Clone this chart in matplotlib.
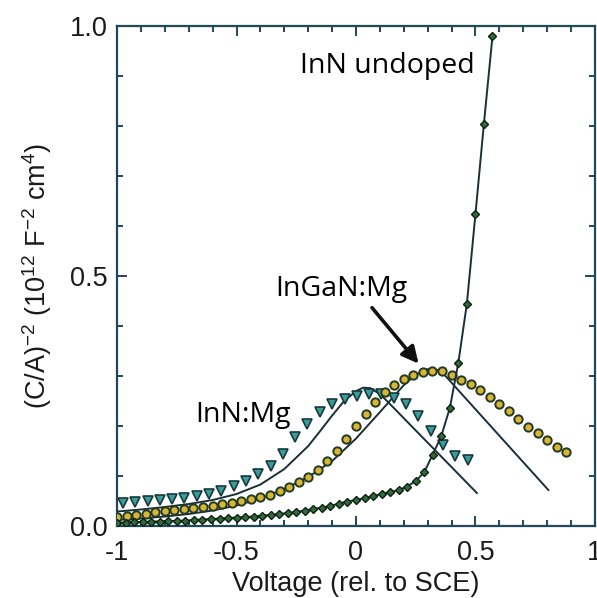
import numpy as np
import matplotlib.pyplot as plt

# InN undoped (dark green diamonds), voltage vs (C/A)^-2
v_undoped = [-1.000, -0.964, -0.928, -0.893, -0.857, -0.821, -0.786, -0.750,
             -0.714, -0.678, -0.643, -0.607, -0.571, -0.535, -0.500, -0.464,
             -0.428, -0.393, -0.357, -0.321, -0.286, -0.250, -0.214, -0.178,
             -0.143, -0.107, -0.071, -0.036, 0.000, 0.036, 0.071, 0.107,
             0.143, 0.178, 0.214, 0.250, 0.286, 0.321, 0.357, 0.393,
             0.428, 0.464, 0.500, 0.535, 0.571]
c_undoped = [0.007, 0.007, 0.008, 0.008, 0.009, 0.009, 0.010, 0.010,
             0.011, 0.012, 0.013, 0.014, 0.015, 0.016, 0.017, 0.018,
             0.019, 0.021, 0.022, 0.024, 0.026, 0.028, 0.031, 0.034,
             0.037, 0.040, 0.045, 0.049, 0.052, 0.056, 0.060, 0.064,
             0.068, 0.072, 0.079, 0.090, 0.108, 0.143, 0.180, 0.237,
             0.326, 0.445, 0.625, 0.804, 0.980]

# InGaN:Mg (yellow circles)
v_ingan = [-1.00, -0.96, -0.92, -0.88, -0.84, -0.80, -0.76, -0.72, -0.68, -0.64,
           -0.60, -0.56, -0.52, -0.48, -0.44, -0.40, -0.36, -0.32, -0.28, -0.24,
           -0.20, -0.16, -0.12, -0.08, -0.04, 0.00, 0.04, 0.08, 0.12, 0.16,
           0.20, 0.24, 0.28, 0.32, 0.36, 0.40, 0.44, 0.48, 0.52, 0.56,
           0.60, 0.64, 0.68, 0.72, 0.76, 0.80, 0.84, 0.88]
c_ingan = [0.019, 0.021, 0.023, 0.025, 0.028, 0.030, 0.033, 0.035, 0.037, 0.039,
           0.041, 0.044, 0.047, 0.050, 0.054, 0.058, 0.063, 0.070, 0.078, 0.088,
           0.099, 0.113, 0.130, 0.150, 0.174, 0.200, 0.224, 0.248, 0.268, 0.283,
           0.295, 0.303, 0.309, 0.311, 0.310, 0.303, 0.293, 0.284, 0.272, 0.259,
           0.245, 0.230, 0.214, 0.198, 0.186, 0.172, 0.158, 0.148]

# InN:Mg (teal triangles)
v_innmg = [-0.975, -0.924, -0.872, -0.821, -0.769, -0.718, -0.666, -0.615,
           -0.563, -0.512, -0.460, -0.409, -0.357, -0.306, -0.254, -0.203,
           -0.151, -0.100, -0.048, 0.003, 0.055, 0.106, 0.158, 0.209,
           0.261, 0.312, 0.364, 0.415, 0.467]
c_innmg = [0.046, 0.048, 0.050, 0.052, 0.054, 0.057, 0.061, 0.065,
           0.071, 0.080, 0.090, 0.104, 0.121, 0.144, 0.178, 0.205,
           0.228, 0.245, 0.254, 0.260, 0.264, 0.264, 0.257, 0.244,
           0.220, 0.191, 0.163, 0.141, 0.132]

# fitted curves
v_fit_innmg = [-1.0, -0.9, -0.8, -0.7, -0.6, -0.5, -0.4, -0.3, -0.2, -0.15,
               -0.1, -0.05, 0.0, 0.03, 0.06, 0.09, 0.12, 0.506]
c_fit_innmg = [0.029, 0.033, 0.038, 0.044, 0.052, 0.064, 0.083, 0.114, 0.160, 0.190,
               0.221, 0.250, 0.270, 0.277, 0.276, 0.267, 0.255, 0.066]

v_fit_ingan = [-1.0, -0.9, -0.8, -0.7, -0.6, -0.5, -0.4, -0.3, -0.2, -0.1,
               0.0, 0.1, 0.15, 0.2, 0.25, 0.3, 0.33, 0.36, 0.805]
c_fit_ingan = [0.012, 0.015, 0.019, 0.024, 0.031, 0.041, 0.055, 0.074, 0.098, 0.130,
               0.175, 0.228, 0.255, 0.282, 0.303, 0.314, 0.314, 0.308, 0.072]

xticks = [-1, -0.5, 0, 0.5, 1]
xtick_labels = ['-1', '-0.5', '0', '0.5', '1']
yticks = [0.0, 0.5, 1.0]
ytick_labels = ['0.0', '0.5', '1.0']

axis_col = '#1f4858'
line_col = '#1c2f38'

plt.rcParams['font.family'] = ['Liberation Sans', 'DejaVu Sans']
plt.rcParams['axes.unicode_minus'] = False
plt.rcParams['mathtext.fontset'] = 'custom'
plt.rcParams['mathtext.rm'] = 'Liberation Sans'

fig = plt.figure(figsize=(5.97, 5.98), dpi=100)
ax = fig.add_axes([0.196, 0.1204, 0.8006, 0.8353])

# fits
ax.plot(v_fit_innmg, c_fit_innmg, '-', color=line_col, lw=1.4, zorder=3)
ax.plot(v_fit_ingan, c_fit_ingan, '-', color=line_col, lw=1.4, zorder=3)

# data
ax.plot(v_innmg, c_innmg, linestyle='none', marker='v', ms=7,
        mfc='#3b9c9c', mec='#17393c', mew=1.2, zorder=4)
ax.plot(v_ingan, c_ingan, linestyle='none', marker='o', ms=6,
        mfc='#d8b535', mec='#233a22', mew=1.4, zorder=4)
ax.plot(v_undoped, c_undoped, '-', color=line_col, lw=1.4,
        marker='D', ms=4.5, mfc='#2f6b3a', mec='#0f2012', mew=1.0, zorder=5)

ax.set_xlim(-1, 1)
ax.set_ylim(0, 1)
ax.set_xticks(xticks)
ax.set_xticklabels(xtick_labels)
ax.set_yticks(yticks)
ax.set_yticklabels(ytick_labels)
ax.set_xticks(np.arange(-1, 1.01, 0.1), minor=True)
ax.set_yticks(np.arange(0, 1.01, 0.1), minor=True)
ax.tick_params(which='both', direction='in', top=True, right=True,
               color=axis_col, width=1.4)
ax.tick_params(which='major', length=7, labelsize=19.5, labelcolor='#1a1a1a')
ax.tick_params(axis='x', which='major', pad=10)
ax.tick_params(axis='y', which='major', pad=7)
ax.tick_params(which='minor', length=4)
for sp in ax.spines.values():
    sp.set_color(axis_col)
    sp.set_linewidth(1.6)

ax.set_xlabel('Voltage (rel. to SCE)', fontsize=19.5, color='#1a1a1a', labelpad=4)
ax.set_ylabel('(C/A)$^{-2}$ (10$^{12}$ F$^{-2}$ cm$^{4}$)', fontsize=19.5,
              color='#1a1a1a', labelpad=11)

ann_font = dict(family=['Open Sans', 'DejaVu Sans'], fontsize=20.5, color='black')
ax.text(-0.234, 0.906, 'InN undoped', ha='left', va='baseline', **ann_font)
ax.text(-0.339, 0.461, 'InGaN:Mg', ha='left', va='baseline', **ann_font)
ax.text(-0.674, 0.208, 'InN:Mg', ha='left', va='baseline', **ann_font)
ax.annotate('', xy=(0.262, 0.325), xytext=(0.067, 0.437),
            arrowprops=dict(arrowstyle='-|>,head_length=1.0,head_width=0.5',
                            color='#111111', lw=2.6, shrinkA=0, shrinkB=0))

fig.savefig('out.png', dpi=100)
